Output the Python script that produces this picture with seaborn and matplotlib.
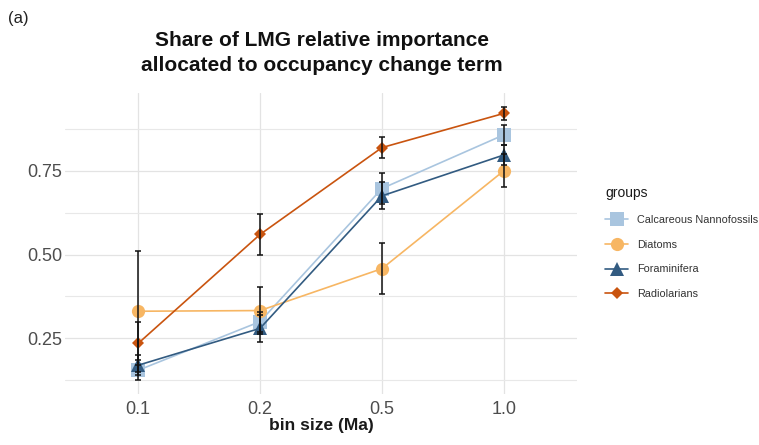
import numpy as np
import pandas as pd
import matplotlib
matplotlib.use("Agg")
import matplotlib.pyplot as plt
from matplotlib.lines import Line2D
from matplotlib.ticker import FixedLocator
import seaborn as sns

# ---- data ----
bins = ["0.1", "0.2", "0.5", "1.0"]
groups = ["Calcareous Nannofossils", "Diatoms", "Foraminifera", "Radiolarians"]
calc_vals = [0.155, 0.300, 0.697, 0.857]
calc_err = [0.030, 0.030, 0.045, 0.030]
diat_vals = [0.331, 0.333, 0.458, 0.750]
diat_err = [0.180, 0.070, 0.075, 0.050]
fora_vals = [0.170, 0.280, 0.675, 0.797]
fora_err = [0.030, 0.040, 0.040, 0.030]
radi_vals = [0.235, 0.560, 0.819, 0.921]
radi_err = [0.065, 0.060, 0.031, 0.020]
yticks = [0.25, 0.50, 0.75]
ytick_labels = ["0.25", "0.50", "0.75"]
title = "Share of LMG relative importance\nallocated to occupancy change term"
xlabel = "bin size (Ma)"
legend_title = "groups"
panel_tag = "(a)"

vals = [calc_vals, diat_vals, fora_vals, radi_vals]
errs = [calc_err, diat_err, fora_err, radi_err]
colors = ["#a9c5df", "#f7b663", "#325b81", "#c9540f"]
markers = ["s", "o", "^", "D"]
msizes = [9.5, 9.5, 9.5, 6.5]

rows = []
for g, v in zip(groups, vals):
    for b, y in zip(bins, v):
        rows.append({"bin": b, "value": y, "group": g})
df = pd.DataFrame(rows)

sns.set_theme(style="whitegrid")
plt.rcParams["font.family"] = ["Liberation Sans", "DejaVu Sans"]

fig = plt.figure(figsize=(7.59, 4.45), dpi=100)
ax = fig.add_axes([65 / 759, 1 - 394 / 445, (577 - 65) / 759, (394 - 93) / 445])

sns.pointplot(data=df, x="bin", y="value", hue="group", order=bins,
              hue_order=groups, palette=colors, markers=markers,
              linestyles="-", errorbar=None, dodge=False, ax=ax,
              legend=False, linewidth=1.2)

for ln, ms, c in zip(ax.lines[:4], msizes, colors):
    ln.set_markersize(ms)
    ln.set_markeredgewidth(0)
    ln.set_color(c)

xpos = np.arange(len(bins))
for v, e in zip(vals, errs):
    ax.errorbar(xpos, v, yerr=e, fmt="none", ecolor="#111111",
                elinewidth=1.1, capsize=2.2, capthick=1.1, zorder=6)

lo = min(min(np.array(v) - np.array(e)) for v, e in zip(vals, errs))
hi = max(max(np.array(v) + np.array(e)) for v, e in zip(vals, errs))
pad = (hi - lo) * 0.05
ax.set_ylim(lo - pad, hi + pad)
ax.set_xlim(-0.6, len(bins) - 1 + 0.6)

ax.set_yticks(yticks)
ax.set_yticklabels(ytick_labels)
ax.yaxis.set_minor_locator(FixedLocator([0.125, 0.375, 0.625, 0.875]))
ax.grid(which="major", color="#e3e3e3", linewidth=0.9)
ax.grid(which="minor", axis="y", color="#e8e8e8", linewidth=0.8)
ax.set_axisbelow(True)
for s in ax.spines.values():
    s.set_visible(False)
ax.tick_params(axis="both", which="both", length=0)
ax.tick_params(axis="x", pad=5, labelsize=13, labelcolor="#4d4d4d")
ax.tick_params(axis="y", pad=2, labelsize=13, labelcolor="#4d4d4d")
ax.set_ylabel("")
ax.set_xlabel(xlabel, fontsize=12.5, fontweight="bold", color="#1a1a1a", labelpad=0)

fig.text(322 / 759, 1 - 53 / 445, title, ha="center", va="center",
         fontsize=15, fontweight="bold", color="#111111", linespacing=1.45)
fig.text(8 / 759, 1 - 18 / 445, panel_tag, ha="left", va="center",
         fontsize=12, color="#222222")

handles = [Line2D([], [], color=c, marker=m, markersize=ms, markeredgewidth=0,
                  linewidth=1.2) for c, m, ms in zip(colors, markers, msizes)]
leg = fig.legend(handles, groups, title=legend_title, loc="upper left",
                 bbox_to_anchor=(600 / 759, 1 - 181 / 445), frameon=False,
                 fontsize=7.8, title_fontsize=10, handlelength=2.1,
                 handletextpad=0.8, labelspacing=1.35, borderpad=0,
                 alignment="left")
for t in leg.get_texts():
    t.set_color("#333333")
leg.get_title().set_color("#1a1a1a")

fig.savefig("out.png", dpi=100)
